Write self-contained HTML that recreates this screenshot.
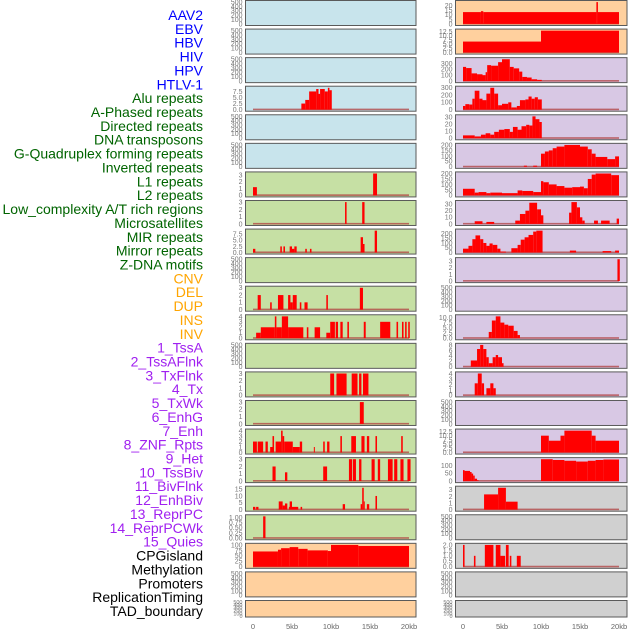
<!DOCTYPE html>
<html><head><meta charset="utf-8"><style>
html,body{margin:0;padding:0;background:#fff}
svg{display:block;font-family:"Liberation Sans",sans-serif}
</style></head><body>
<svg id="chart" width="630" height="630" viewBox="0 0 630 630">
<g id="labels"></g>
<g id="panels"></g>
<g id="xaxis"></g>
</svg>
<script>
const trackLabels = ["AAV2","EBV","HBV","HIV","HPV","HTLV-1","Alu repeats","A-Phased repeats","Directed repeats","DNA transposons","G-Quadruplex forming repeats","Inverted repeats","L1 repeats","L2 repeats","Low_complexity A/T rich regions","Microsatellites","MIR repeats","Mirror repeats","Z-DNA motifs","CNV","DEL","DUP","INS","INV","1_TssA","2_TssAFlnk","3_TxFlnk","4_Tx","5_TxWk","6_EnhG","7_Enh","8_ZNF_Rpts","9_Het","10_TssBiv","11_BivFlnk","12_EnhBiv","13_ReprPC","14_ReprPCWk","15_Quies","CPGisland","Methylation","Promoters","ReplicationTiming","TAD_boundary"];
const labelGroups = [6,13,5,15,5];
const groupColors = ["#0000ff","#006400","#ffa500","#a020f0","#000000"];
const xTickKb = [0,5,10,15,20];
const xTickLabels = ["0","5kb","10kb","15kb","20kb"];
const leftBg = ["#c8e4ec","#c8e4ec","#c8e4ec","#c8e4ec","#c8e4ec","#c8e4ec","#c6e0a4","#c6e0a4","#c6e0a4","#c6e0a4","#c6e0a4","#c6e0a4","#c6e0a4","#c6e0a4","#c6e0a4","#c6e0a4","#c6e0a4","#c6e0a4","#c6e0a4","#ffd09e","#ffd09e","#ffd09e"];
const rightBg = ["#ffd09e","#ffd09e","#d8c8e4","#d8c8e4","#d8c8e4","#d8c8e4","#d8c8e4","#d8c8e4","#d8c8e4","#d8c8e4","#d8c8e4","#d8c8e4","#d8c8e4","#d8c8e4","#d8c8e4","#d8c8e4","#d8c8e4","#d0d0d0","#d0d0d0","#d0d0d0","#d0d0d0","#d0d0d0"];
const E = [0,100,200,300,400,500];
const leftTicks = [E,E,E,[0,2.5,5,7.5],E,E,[0,1,2,3],[0,1,2,3],[0,2.5,5,7.5],E,[0,1,2,3],[0,1,2,3,4],E,[0,1,2,3],[0,1,2,3],[0,1,2,3,4],[0,1,2,3],[0,5,10,15],[0,0.25,0.5,0.75,1],[0,25,50,75,100],E,E];
const rightTicks = [[0,5,10,15,20],[0,2.5,5,7.5,10,12.5],[0,100,200,300],[0,100,200,300],[0,10,20,30],[0,50,100,150,200],[0,50,100,150,200],[0,10,20,30],[0,50,100,150,200],[0,1,2,3],E,[0,2.5,5,7.5,10],[0,2,4,6,8],[0,1,2,3,4],E,[0,2.5,5,7.5,10,12.5],[0,50,100],[0,1,2,3],E,[0,0.5,1,1.5,2],E,E];
const leftSeries = [
 [],[],[],
 [[6.2,6.7,2.5],[6.7,7.2,4],[7.2,8.1,7.5],[8.1,8.4,8.5],[8.4,8.6,6.5],[8.6,9.2,8.5],[9.2,9.6,7.5],[9.6,9.8,9],[9.8,10.1,8]],
 [],[],
 [[0,0.5,1.2],[15.4,15.9,3.2]],
 [[11.8,12.0,3],[14.0,14.3,3]],
 [[0,0.3,1.5],[3.5,3.7,2.5],[3.9,4.1,2.5],[4.7,5.0,2.5],[5.0,5.3,1.5],[5.3,5.6,2.5],[6.7,6.9,1.5],[7.3,7.5,1.5],[13.8,14.1,6.3],[14.1,14.3,3.5],[15.6,15.9,9]],
 [],
 [[0.6,1.0,2],[2.2,2.4,1],[3.2,3.9,2],[4.5,4.8,2],[4.8,5.1,1],[5.1,5.6,2],[6.0,6.2,1],[6.6,7.0,1],[9.4,9.6,2],[13.7,14.1,3]],
 [[0.4,1.0,1],[1.0,2.8,2],[2.8,3.0,4],[3.0,3.7,2],[3.7,4.5,4],[4.5,6.45,2],[6.9,7.1,2],[7.9,8.6,2],[9.4,9.9,1],[9.9,10.5,3],[10.6,10.9,3],[11.2,11.5,3],[12.1,12.3,3],[14.2,14.45,3],[16.3,17.6,3],[18.4,18.6,3],[19.1,19.3,3],[19.5,19.7,3],[19.9,20.1,3]],
 [],
 [[9.9,10.4,3],[10.7,12.0,3],[12.65,13.4,3],[13.6,13.9,3],[14.1,14.8,3]],
 [[13.7,14.2,3]],
 [[0,0.5,2],[0.6,1.3,2],[1.6,1.9,2],[2.2,2.5,1],[2.5,2.7,3],[2.9,3.6,2],[3.6,3.8,4],[3.8,4.0,3],[4.0,5.1,2],[5.1,6.0,1],[6.0,6.3,2],[7.8,7.9,1],[9.0,9.2,2],[9.5,9.8,2],[11.2,11.4,3],[12.6,13.2,3],[13.9,14.3,3],[14.6,14.9,3],[15.7,15.9,3],[19.0,19.2,3]],
 [[2.5,2.9,2],[4.1,4.4,1.2],[9.0,9.5,2],[12.3,12.7,3],[12.8,13.2,3],[13.6,13.9,3],[15.2,15.6,3],[16.0,16.3,3],[17.3,17.9,3],[18.1,18.5,3],[18.9,19.3,3],[19.8,20.2,3]],
 [[0,0.3,2],[0.4,0.7,2],[3.3,3.8,6],[3.8,4.1,3],[4.1,4.4,4.5],[4.6,4.7,2],[4.7,5.0,6],[5.0,5.8,2],[6.1,6.3,2],[11.5,11.8,4],[13.8,14.0,4],[14.0,14.2,16],[14.2,14.3,6],[14.6,14.9,4],[15.7,15.9,10]],
 [[1.3,1.6,1.05]],
 [[0,3.2,70],[3.2,3.6,78],[3.6,4.7,85],[4.7,5.8,90],[5.8,7.0,82],[7.0,9.6,75],[9.6,10.0,72],[10.0,13.5,100],[13.5,20.0,95]],
 [],[]
];
const rightSeries = [
 [[0,2.3,13],[2.3,2.6,14],[2.6,17.1,13],[17.1,17.3,24],[17.3,20,13]],
 [[0,10,6.5],[10,20,13]],
 [[0,0.4,240],[0.4,1.1,220],[1.1,1.8,130],[1.8,2.5,115],[2.5,2.9,100],[2.9,3.1,150],[3.1,3.6,270],[3.6,4.5,260],[4.5,5.0,320],[5.0,6.0,370],[6.0,6.5,240],[6.5,7.2,215],[7.2,7.6,160],[7.6,8.2,70],[8.2,8.8,60],[8.8,9.5,30],[9.5,10.1,20]],
 [[0,0.3,50],[0.3,0.8,75],[0.8,1.2,70],[1.2,1.5,150],[1.5,2.1,260],[2.1,2.5,150],[2.5,3.0,130],[3.0,3.5,220],[3.5,4.0,300],[4.0,4.5,220],[4.5,5.0,60],[5.0,5.8,80],[5.8,6.2,100],[6.2,6.9,30],[6.9,7.3,50],[7.3,8.0,130],[8.0,8.4,140],[8.4,8.8,180],[8.8,9.2,150],[9.2,9.6,170],[9.6,10.1,140]],
 [[0,1.5,4],[1.5,2.3,2.5],[2.3,2.9,5],[2.9,3.5,7],[3.5,4.0,5],[4.0,4.6,9],[4.6,5.3,12],[5.3,6.0,13],[6.0,6.4,9],[6.4,7.0,16],[7.0,7.5,12],[7.5,8.1,17],[8.1,8.5,19],[8.5,8.9,18],[8.9,9.3,31],[9.3,9.8,27],[9.8,10.1,23]],
 [[7.8,8.2,10],[9.0,9.5,10],[10,10.5,120],[10.5,11,140],[11,11.5,150],[11.5,12,170],[12,13,185],[13,15,200],[15,16,185],[16,16.5,160],[16.5,17,120],[17,18.5,90],[18.5,19.5,70],[19.5,20,95]],
 [[0,1.5,60],[1.5,2,25],[2,3,30],[3,3.5,20],[3.5,5,25],[5,7,20],[7,7.6,45],[7.6,9,40],[9,10,30],[10,10.3,130],[10.3,11,120],[11,12,100],[12,13,85],[13,14,70],[14,15,75],[15,15.5,80],[15.5,16,65],[16,16.5,150],[16.5,17,190],[17,19,200],[19,20,185]],
 [[1.5,2.5,4],[3,4,3],[6.7,7.3,5],[7.3,8,15],[8,8.5,20],[8.5,9.5,32],[9.5,10,22],[10,10.3,13],[13.6,13.9,17],[13.9,14.6,33],[14.6,15,25],[15,15.3,10],[15.3,15.6,5],[16.8,17.3,5],[17.7,18.8,5],[19.7,20,8]],
 [[0,0.7,40],[0.7,1.2,70],[1.2,1.6,140],[1.6,2.2,180],[2.2,2.6,140],[2.6,3.0,100],[3.0,3.4,70],[3.4,3.8,95],[3.8,4.4,80],[4.4,4.8,40],[4.8,5.5,10],[6.2,7.0,45],[7.0,7.4,80],[7.4,7.9,135],[7.9,8.4,160],[8.4,9.0,185],[9.0,9.4,220],[9.4,10.2,230],[13.7,14.5,20],[17.9,19,15],[19.5,20,20]],
 [[19.8,20.1,3.3]],
 [],
 [[3.3,3.7,3],[3.7,4.2,8.5],[4.2,4.8,10.5],[4.8,5.3,7.5],[5.3,5.8,6.5],[5.8,6.5,6],[6.5,7.0,3.5],[7.0,7.3,1.5]],
 [[1.0,1.8,2.3],[1.8,2.2,6.5],[2.2,2.6,8],[2.6,3.0,6.5],[3.0,3.3,3.5],[3.3,3.8,1.3],[3.8,4.2,3.5],[4.2,4.5,4.3],[4.5,5.0,3.5],[5.0,5.2,1.3]],
 [[1.5,1.9,2.2],[1.9,2.4,4],[2.4,2.7,2.2],[3.0,3.5,1.3],[3.5,3.9,2.2],[3.9,4.2,1.3]],
 [],
 [[10,11,10],[11,12.5,7],[12.5,13,10],[13,16.5,13],[16.5,17,10],[17,20,7]],
 [[0,0.2,70],[0.2,0.9,65],[0.9,1.1,58],[1.1,1.3,48],[1.3,1.5,35],[1.5,1.8,15],[1.8,2,5],[10,11.5,140],[11.5,13,135],[13,14.5,130],[14.5,16,125],[16,17,130],[17,18,135],[18,20,138]],
 [[2.7,4.5,2.3],[4.5,5.5,3.3],[5.5,7,1.2]],
 [],
 [[0,0.2,2],[1.4,1.6,1],[2.8,3.9,2],[4.2,4.8,2],[4.8,5.4,1],[5.5,5.85,2],[6.0,6.2,1],[6.9,7.4,1]],
 [],[]
];

const NS="http://www.w3.org/2000/svg";
function mk(tag,attrs,parent){const e=document.createElementNS(NS,tag);for(const k in attrs)e.setAttribute(k,attrs[k]);parent.appendChild(e);return e;}
const colX=[{box0:245.5,box1:416,x0:253},{box0:455.5,box1:627,x0:463}];
const kbW=7.8;
function xScale(col,kb){return colX[col].x0+kb*kbW;}
function rowTop(i){return i<21?i*28.57+0.5:600.5;}
function rowH(i){return i<21?25:16.5;}
function decimals(ticks){let d=0;ticks.forEach(t=>{const s=String(t);const p=s.indexOf('.');if(p>=0)d=Math.max(d,s.length-p-1);});return d;}

const gl=document.getElementById('labels');
let idx=0;
labelGroups.forEach((n,g)=>{for(let j=0;j<n;j++){const t=mk('text',{x:203,y:20+idx*13.86,'text-anchor':'end','font-size':14,fill:groupColors[g]},gl);


t.textContent=trackLabels[idx];idx++;}});

const gp=document.getElementById('panels');
function drawPanel(col,i,bg,ticks,segs){
  const top=rowTop(i),h=rowH(i),c=colX[col];
  const g=mk('g',{},gp);
  
  
  const r=mk('rect',{x:c.box0,y:top,width:c.box1-c.box0,height:h,fill:bg,stroke:'#5a5a5a','stroke-width':1},g);
  
  
  let m=segs.length?Math.max(...segs.map(s=>s[2])):500;
  const lo=-0.05*m,hi=1.05*m,bot=top+h-0.5,inner=h-1;
  const ys=v=>bot-(v-lo)/(hi-lo)*inner;
  const d=decimals(ticks);
  ticks.forEach(t=>{const tx=mk('text',{x:c.box0-3,y:ys(t)+2.4,'text-anchor':'end','font-size':h<20?5.5:7,fill:'#777'},g);
    
    
    tx.textContent=t.toFixed(d);});
  if(segs.length){
    const bl=mk('rect',{x:xScale(col,0),y:ys(0)-1,width:xScale(col,20)-xScale(col,0),height:1.6,fill:'#b04040',opacity:0.75},g);
    
    
  }
  segs.forEach(s=>{const x0=xScale(col,s[0]),x1=xScale(col,s[1]);const y=Math.max(ys(s[2]),top+0.5);
    const b=mk('rect',{x:x0,y:y,width:Math.max(x1-x0,1),height:ys(0)-y,fill:'#ff0000'},g);
    
    });
}
for(let i=0;i<22;i++){drawPanel(0,i,leftBg[i],leftTicks[i],leftSeries[i]);drawPanel(1,i,rightBg[i],rightTicks[i],rightSeries[i]);}

const gx=document.getElementById('xaxis');
[0,1].forEach(col=>{xTickKb.forEach((k,j)=>{const t=mk('text',{x:xScale(col,k),y:629,'text-anchor':'middle','font-size':7.5,fill:'#666'},gx);
  
  
  t.textContent=xTickLabels[j];});});
</script>
</body></html>
